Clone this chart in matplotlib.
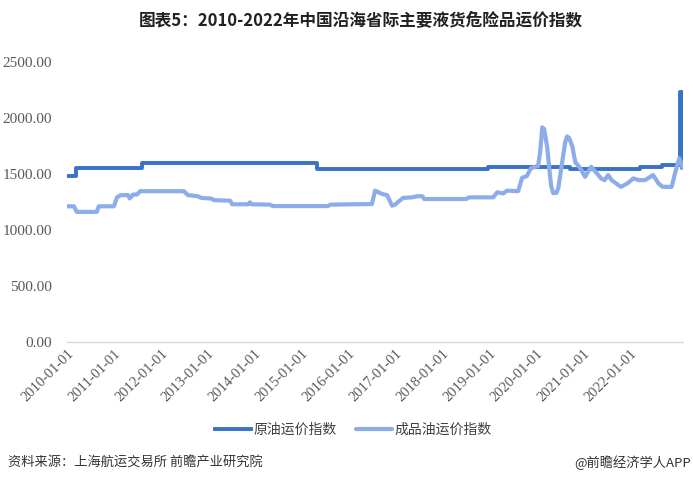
import matplotlib
matplotlib.use("Agg")
import matplotlib.pyplot as plt
import pandas as pd

plt.rcParams['font.family'] = ['Noto Sans CJK SC', 'DejaVu Sans']

title = "图表5：2010-2022年中国沿海省际主要液货危险品运价指数"
crude_label = "原油运价指数"
product_label = "成品油运价指数"
source_text = "资料来源：上海航运交易所 前瞻产业研究院"
credit_text = "@前瞻经济学人APP"

crude_dates = ["2010-01-01", "2010-03-10", "2011-08-10", "2015-05-01", "2018-12-20",
               "2020-09-20", "2022-03-20", "2022-09-05", "2023-01-24", "2023-02-06",
               "2023-02-17"]
crude_values = [1480, 1550, 1600, 1545, 1560, 1540, 1560, 1580, 2230, 1550, 1550]

product_dates = [
    "2010-01-01", "2010-02-24", "2010-03-18", "2010-08-21", "2010-09-05", "2011-01-01",
    "2011-01-25", "2011-02-24", "2011-04-20", "2011-05-04", "2011-05-30", "2011-06-29",
    "2011-07-24", "2012-06-29", "2012-07-30", "2012-10-16", "2012-11-10", "2013-01-26",
    "2013-02-18", "2013-06-24", "2013-07-09", "2013-11-10", "2013-11-25", "2013-12-09",
    "2014-04-29", "2014-05-22", "2015-07-23", "2015-08-17", "2016-01-29", "2016-07-01",
    "2016-07-26", "2016-09-19", "2016-10-27", "2016-12-05", "2016-12-28", "2017-01-22",
    "2017-03-01", "2017-05-11", "2017-06-17", "2017-07-28", "2017-08-12", "2018-07-05",
    "2018-07-27", "2019-01-31", "2019-03-03", "2019-04-19", "2019-05-18", "2019-08-13",
    "2019-09-13", "2019-10-20", "2019-11-20", "2020-01-15", "2020-02-01", "2020-02-17",
    "2020-03-03", "2020-03-26", "2020-04-25", "2020-05-12", "2020-06-06", "2020-06-21",
    "2020-07-20", "2020-08-13", "2020-08-28", "2020-09-13", "2020-10-07", "2020-10-31",
    "2020-12-09", "2021-01-15", "2021-03-03", "2021-04-18", "2021-05-20", "2021-06-15",
    "2021-07-14", "2021-08-10", "2021-10-20", "2021-12-10", "2022-01-25", "2022-03-10",
    "2022-04-27", "2022-06-28", "2022-08-10", "2022-09-10", "2022-11-20", "2022-12-16",
    "2023-01-18", "2023-02-17"]
product_values = [
    1210, 1210, 1160, 1160, 1210, 1210,
    1290, 1310, 1310, 1280, 1315, 1315,
    1345, 1345, 1310, 1300, 1285, 1280,
    1265, 1260, 1228, 1228, 1245, 1228,
    1225, 1212, 1212, 1225, 1228, 1230,
    1350, 1320, 1310, 1215, 1225, 1250,
    1285, 1290, 1300, 1300, 1275, 1275,
    1290, 1290, 1335, 1325, 1350, 1345,
    1465, 1480, 1550, 1570, 1700, 1915,
    1900, 1740, 1400, 1328, 1330, 1375,
    1596, 1780, 1835, 1820, 1750, 1605,
    1550, 1474, 1563, 1504, 1459, 1444,
    1489, 1444, 1384, 1414, 1459, 1444,
    1444, 1489, 1414, 1384, 1384, 1504,
    1640, 1550]

yticks = [0, 500, 1000, 1500, 2000, 2500]
xtick_years = list(range(2010, 2023))

fig = plt.figure(figsize=(6.93, 4.84), dpi=100)
ax = fig.add_axes([0.0967, 0.294, 0.889, 0.578])

ax.plot(pd.to_datetime(crude_dates), crude_values, drawstyle='steps-post',
        color='#3A72C6', lw=2.8, label=crude_label, solid_joinstyle='round')
ax.plot(pd.to_datetime(product_dates), product_values,
        color='#8DADE8', lw=3.0, label=product_label, solid_joinstyle='round',
        solid_capstyle='round')

ax.set_ylim(0, 2500)
ax.set_xlim(pd.Timestamp("2010-01-01"), pd.Timestamp("2023-02-17"))
ax.set_yticks(yticks)
ax.set_yticklabels([f"{v:.2f}" for v in yticks], color='#595959', fontsize=11,
                   family=['Liberation Serif', 'DejaVu Serif'])
xt = [pd.Timestamp(f"{y}-01-01") for y in xtick_years]
ax.set_xticks(xt)
ax.set_xticklabels([f"{y}-01-01" for y in xtick_years], rotation=45, ha='right',
                   rotation_mode='anchor', color='#595959', fontsize=10.5,
                   family=['Liberation Serif', 'DejaVu Serif'])
ax.tick_params(axis='both', length=0)
ax.tick_params(axis='y', pad=11)
ax.tick_params(axis='x', pad=4)
for s in ['top', 'right', 'left']:
    ax.spines[s].set_visible(False)
ax.spines['bottom'].set_color('#D9D9D9')
ax.spines['bottom'].set_linewidth(1.0)

fig.text(0.52, 0.958, title, ha='center', va='center', fontsize=12, fontweight='bold',
         color='#222222')

leg = fig.legend(loc='center', bbox_to_anchor=(0.51, 0.112), ncol=2, frameon=False,
                 fontsize=10, handlelength=2.6, columnspacing=1.4, handletextpad=0.15)
for t in leg.get_texts():
    t.set_color('#404040')

fig.text(0.011, 0.044, source_text, ha='left', va='center', fontsize=9.5, color='#333333')
fig.text(0.997, 0.044, credit_text, ha='right', va='center', fontsize=9.5, color='#333333')

fig.savefig("out.png", dpi=100)
